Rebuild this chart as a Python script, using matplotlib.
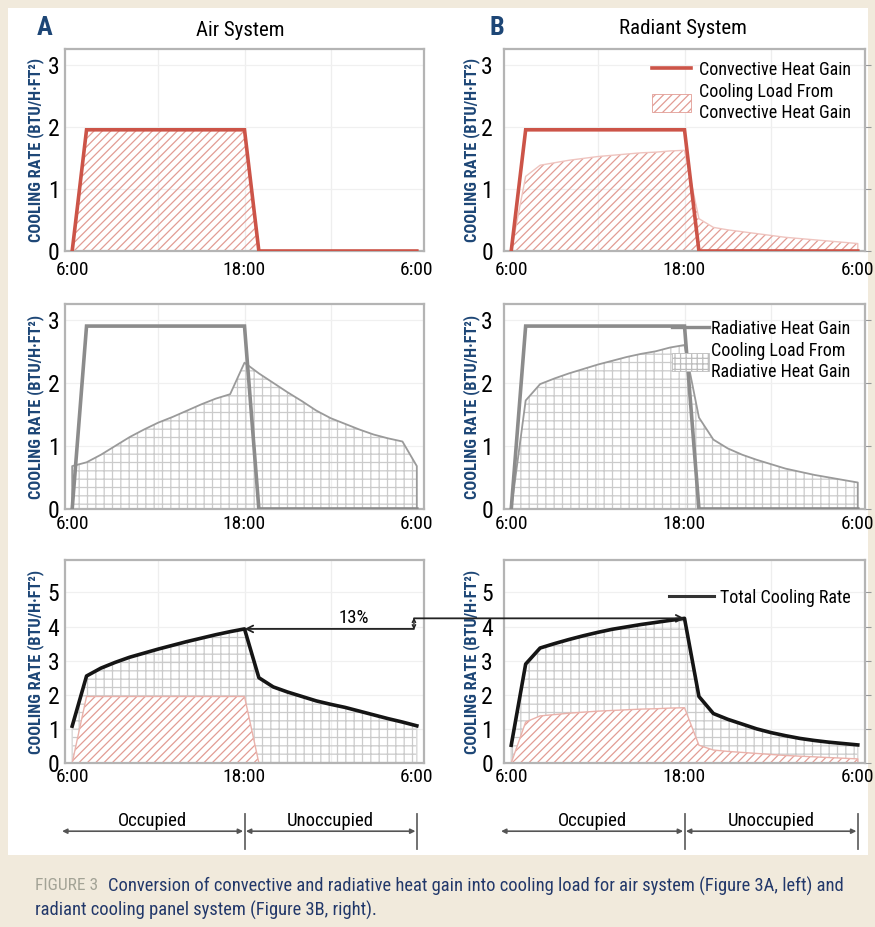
import os
import matplotlib
matplotlib.use("Agg")
import matplotlib.pyplot as plt
from matplotlib import font_manager as fm
from matplotlib.patches import Rectangle, Patch, ConnectionPatch
from matplotlib.lines import Line2D

# ---------------- data ----------------
hours = list(range(6, 31))            # 6:00 .. 6:00 next day (hour 30)
tick_hours = [6, 18, 30]
tick_labels = ["6:00", "18:00", "6:00"]

convective_heat_gain = [0] + [1.95] * 12 + [0] * 12
radiative_heat_gain = [0] + [2.9] * 12 + [0] * 12

# Air system (A)
air_conv_cooling_load = convective_heat_gain
air_rad_cooling_load = [0.68, 0.74, 0.86, 1.0, 1.14, 1.26, 1.37, 1.46, 1.56, 1.66, 1.75, 1.82,
                        2.32, 2.15, 2.0, 1.85, 1.71, 1.56, 1.44, 1.35, 1.26, 1.18, 1.12, 1.07, 0.68]
air_total_cooling = [1.08, 2.55, 2.78, 2.95, 3.1, 3.22, 3.34, 3.45, 3.56, 3.66, 3.76, 3.85,
                     3.93, 2.5, 2.23, 2.08, 1.95, 1.82, 1.72, 1.63, 1.52, 1.41, 1.3, 1.2, 1.09]

# Radiant system (B)
rad_conv_cooling_load = [0, 1.2, 1.38, 1.42, 1.46, 1.49, 1.52, 1.54, 1.56, 1.58, 1.59, 1.61,
                         1.62, 0.52, 0.38, 0.34, 0.31, 0.28, 0.25, 0.22, 0.2, 0.18, 0.16, 0.14, 0.12]
rad_rad_cooling_load = [0, 1.72, 1.98, 2.07, 2.15, 2.22, 2.29, 2.35, 2.41, 2.46, 2.5, 2.56,
                        2.6, 1.45, 1.1, 0.96, 0.86, 0.78, 0.71, 0.64, 0.59, 0.54, 0.5, 0.46, 0.42]
rad_total_cooling = [0.52, 2.9, 3.37, 3.5, 3.62, 3.73, 3.83, 3.92, 3.99, 4.06, 4.12, 4.18,
                     4.24, 1.95, 1.45, 1.28, 1.14, 1.0, 0.89, 0.8, 0.72, 0.66, 0.61, 0.57, 0.53]

pct_label = "13%"

# ---------------- fonts: look for a condensed / narrow face ----------------
COND_STRETCH = {"condensed", "semi-condensed", "extra-condensed", "ultra-condensed"}


def is_narrow(f):
    nm = f.name.lower()
    fn = os.path.basename(f.fname).lower()
    st = str(f.stretch).lower()
    return ("narrow" in nm or "condensed" in nm or "narrow" in fn or "condensed" in fn
            or st in COND_STRETCH or (st.isdigit() and int(st) < 500))


cands = [f for f in fm.fontManager.ttflist if is_narrow(f)]
pref = ["roboto condensed", "liberation sans narrow", "open sans condensed",
        "noto sans", "open sans", "dejavu sans", "roboto"]


def rank(f):
    nm = f.name.lower()
    p = pref.index(nm) if nm in pref else len(pref)
    w = f.weight if isinstance(f.weight, int) else 400
    return (p, f.style != "normal", abs(w - 400))


chosen = sorted(cands, key=rank)[0] if cands else None
if chosen is not None:
    FAMILY = chosen.name
    STRETCH = chosen.stretch if str(chosen.stretch) in COND_STRETCH else "condensed"
else:
    FAMILY = "DejaVu Sans"
    STRETCH = "normal"
plt.rcParams["font.family"] = [FAMILY, "DejaVu Sans"]
plt.rcParams["font.stretch"] = STRETCH
plt.rcParams["hatch.linewidth"] = 0.9
NARROW_OK = chosen is not None
FS = 1.0 if NARROW_OK else 0.82   # shrink when no narrow face exists

RED = "#cc5448"
RED_HATCH = "#e29c94"
GRAY_LINE = "#8c8c8c"
GRAY_HATCH = "#cbcbcb"
BLACK = "#151515"
NAVY = "#1d4676"
SPINE = "#b4b4b4"
BEIGE = "#f1eadc"

W, H = 875, 927
fig = plt.figure(figsize=(W / 100, H / 100), dpi=100, facecolor=BEIGE)


def px_box(l, t, r, b):
    return [l / W, 1 - b / H, (r - l) / W, (b - t) / H]


fig.add_artist(Rectangle((8 / W, 1 - 855 / H), (868 - 8) / W, (855 - 8) / H,
                         transform=fig.transFigure, fc="white", ec="none", zorder=-5))

COLS = [(65, 424), (504, 865)]
ROWS = [(49, 251), (304, 509), (560, 763)]
YLIMS = [3.25, 3.25, 5.95]
YTICKS = [[0, 1, 2, 3], [0, 1, 2, 3], [0, 1, 2, 3, 4, 5]]
XPADS = [7.5, 4.5, 3.5]

axes = {}
for ci, (l, r) in enumerate(COLS):
    for ri, (t, b) in enumerate(ROWS):
        ax = fig.add_axes(px_box(l, t, r, b))
        ax.set_xlim(5.5, 30.5)
        ax.set_ylim(0, YLIMS[ri])
        ax.set_xticks(tick_hours)
        ax.set_xticklabels(tick_labels)
        ax.set_yticks(YTICKS[ri])
        for s in ax.spines.values():
            s.set_color(SPINE)
            s.set_linewidth(1.6)
        ax.tick_params(axis="x", length=0, labelsize=14 * FS, pad=XPADS[ri])
        if ci == 0:
            ax.tick_params(axis="y", length=0, labelsize=17 * FS, pad=4)
        else:
            ax.tick_params(axis="y", left=False, right=True, direction="out",
                           length=4, color="#999999", labelsize=17 * FS, pad=4)
        for x in [12, 18, 24]:
            ax.axvline(x, color="#eeeeee", lw=0.9, zorder=0)
        for y in YTICKS[ri][1:]:
            ax.axhline(y, color="#f0f0f0", lw=0.9, zorder=0)
        ax.set_ylabel("COOLING RATE (BTU/H·FT²)", color=NAVY, fontsize=11.8 * FS,
                      fontweight="bold")
        ax.yaxis.set_label_coords(-0.058 if ci == 0 else -0.066, 0.5)
        axes[(ci, ri)] = ax


def outline(vals):
    return [hours[0]] + hours + [hours[-1]], [0] + list(vals) + [0]


def hatch_fill(ax, vals, color, hatch, z=1):
    ax.fill_between(hours, 0, vals, facecolor="none", edgecolor=color,
                    hatch=hatch, linewidth=0, zorder=z)


LEG_FS = 13 * FS

# ---- Row 1: convective ----
ax = axes[(0, 0)]
hatch_fill(ax, air_conv_cooling_load, RED_HATCH, "////")
ax.plot(hours, convective_heat_gain, color=RED, lw=2.6, zorder=3, solid_joinstyle="miter")

ax = axes[(1, 0)]
hatch_fill(ax, rad_conv_cooling_load, RED_HATCH, "////")
xo, yo = outline(rad_conv_cooling_load)
ax.plot(xo, yo, color="#efc4bf", lw=1.0, zorder=2)
ax.plot(hours, convective_heat_gain, color=RED, lw=2.6, zorder=3, solid_joinstyle="miter")
h1 = Line2D([], [], color=RED, lw=2.6)
h2 = Patch(facecolor="white", edgecolor=RED_HATCH, hatch="////", lw=0.6)
ax.legend([h1, h2], ["Convective Heat Gain", "Cooling Load From\nConvective Heat Gain"],
          loc="upper right", bbox_to_anchor=(1.0, 1.015), frameon=False, fontsize=LEG_FS,
          handlelength=2.2, handleheight=1.1, handletextpad=0.4, labelspacing=0.2,
          borderpad=0.3)

# ---- Row 2: radiative ----
for ci, load in [(0, air_rad_cooling_load), (1, rad_rad_cooling_load)]:
    ax = axes[(ci, 1)]
    hatch_fill(ax, load, GRAY_HATCH, "++")
    xo, yo = outline(load)
    ax.plot(xo, yo, color="#9a9a9a", lw=1.3, zorder=2)
    ax.plot(hours, radiative_heat_gain, color=GRAY_LINE, lw=2.6, zorder=3,
            solid_joinstyle="miter")
ax = axes[(1, 1)]
h1 = Line2D([], [], color=GRAY_LINE, lw=2.4)
h2 = Patch(facecolor="white", edgecolor="#bdbdbd", hatch="+++", lw=0.6)
leg = ax.legend([h1, h2], ["Radiative Heat Gain", "Cooling Load From\nRadiative Heat Gain"],
                loc="upper right", bbox_to_anchor=(1.0, 0.995), frameon=False, fontsize=LEG_FS,
                handlelength=2.0, handleheight=1.1, handletextpad=0.15, labelspacing=0.2,
                borderpad=0.3)
leg.set_zorder(10)

# ---- Row 3: total ----
for ci, total, conv in [(0, air_total_cooling, air_conv_cooling_load),
                        (1, rad_total_cooling, rad_conv_cooling_load)]:
    ax = axes[(ci, 2)]
    hatch_fill(ax, total, GRAY_HATCH, "++", z=1)
    xo, yo = outline(total)
    ax.plot(xo, yo, color="#d8d8d8", lw=1.0, zorder=1.5)
    ax.fill_between(hours, 0, conv, facecolor="white", edgecolor="none", zorder=1.8)
    hatch_fill(ax, conv, RED_HATCH, "////", z=2)
    xo, yo = outline(conv)
    ax.plot(xo, yo, color="#eab2ab", lw=1.0, zorder=2.2)
    ax.plot(hours, total, color=BLACK, lw=2.6, zorder=4)
ax = axes[(1, 2)]
ax.legend([Line2D([], [], color="#333333", lw=2.2)], ["Total Cooling Rate"],
          loc="upper right", bbox_to_anchor=(1.0, 0.93), frameon=False, fontsize=LEG_FS,
          handlelength=2.5, handletextpad=0.3, borderpad=0.3)

# ---- 13% annotation ----
axL, axR = axes[(0, 2)], axes[(1, 2)]
peak_air = max(air_total_cooling)
peak_rad = max(rad_total_cooling)
x_air_peak = hours[air_total_cooling.index(peak_air)]
x_rad_peak = hours[rad_total_cooling.index(peak_rad)]
xv = 29.8
axL.annotate("", xy=(x_air_peak, peak_air), xytext=(xv, peak_air),
             arrowprops=dict(arrowstyle="->", lw=1.3, color="#222222",
                             shrinkA=0, shrinkB=0, mutation_scale=12), zorder=6)
axL.annotate("", xy=(xv, peak_rad + 0.02), xytext=(xv, peak_air - 0.02),
             arrowprops=dict(arrowstyle="<->", lw=1.0, color="#222222",
                             shrinkA=0, shrinkB=0, mutation_scale=6), zorder=6)
axL.text(25.6, peak_air + 0.06, pct_label, ha="center", va="bottom", fontsize=13.5 * FS)
con = ConnectionPatch(xyA=(xv, peak_rad), coordsA=axL.transData,
                      xyB=(x_rad_peak, peak_rad), coordsB=axR.transData,
                      arrowstyle="->", lw=1.3, color="#222222", mutation_scale=12,
                      shrinkA=0, shrinkB=0, zorder=10)
fig.add_artist(con)

# ---- column titles ----
fig.text(45 / W, 1 - 28 / H, "A", color=NAVY, fontsize=19 * FS, fontweight="bold",
         ha="center", va="center")
fig.text(240 / W, 1 - 30 / H, "Air System", fontsize=15 * FS, ha="center", va="center")
fig.text(497 / W, 1 - 28 / H, "B", color=NAVY, fontsize=19 * FS, fontweight="bold",
         ha="center", va="center")
fig.text(683 / W, 1 - 28 / H, "Radiant System", fontsize=15 * FS, ha="center", va="center")

# ---- occupancy arrows ----
for ci, (l, r) in enumerate(COLS):
    oa = fig.add_axes(px_box(l, 812, r, 852))
    oa.set_xlim(5.5, 30.5)
    oa.set_ylim(0, 1)
    oa.axis("off")
    ya = 0.52
    ticks = [(5.2, "#666666" if ci == 0 else "#dddddd"), (18, "#666666"), (30, "#666666")]
    for xt, c in ticks:
        oa.plot([xt, xt], [0.08, 0.95], color=c, lw=1.3)
    for x0, x1, lab in [(5.2, 18, "Occupied"), (18, 30, "Unoccupied")]:
        oa.annotate("", xy=(x1, ya), xytext=(x0, ya),
                    arrowprops=dict(arrowstyle="<|-|>", lw=1.2, color="#555555",
                                    shrinkA=1, shrinkB=1, mutation_scale=7))
        oa.text((x0 + x1) / 2, 0.78, lab, ha="center", va="center", fontsize=13.5 * FS)

# ---- caption ----
fig.text(35 / W, 1 - 886 / H, "FIGURE 3", color="#a3a396", fontsize=12.5 * FS, va="center")
fig.text(108 / W, 1 - 886 / H,
         "Conversion of convective and radiative heat gain into cooling load for air system (Figure 3A, left) and",
         color="#22386a", fontsize=13.3 * FS, va="center")
fig.text(35 / W, 1 - 910 / H, "radiant cooling panel system (Figure 3B, right).",
         color="#22386a", fontsize=13.3 * FS, va="center")

fig.savefig("out.png", dpi=100, facecolor=BEIGE)
